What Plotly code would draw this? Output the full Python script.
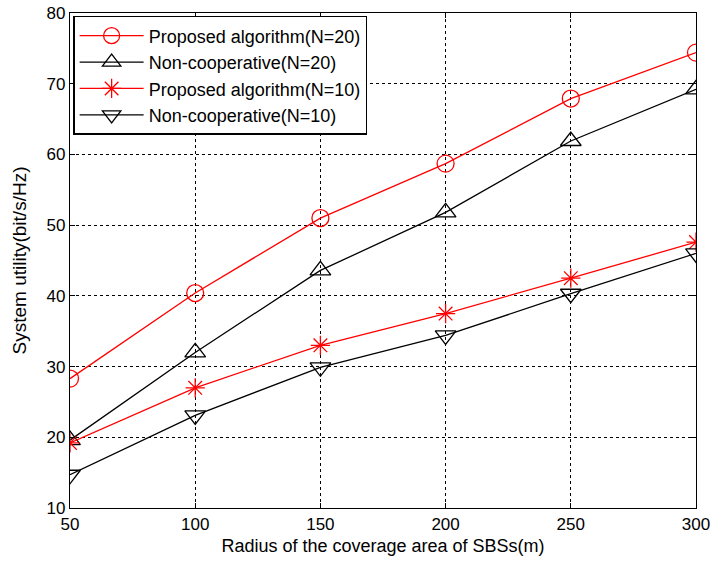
import plotly.graph_objects as go

radius = [50, 100, 150, 200, 250, 300]
proposed_n20 = [28.3, 40.4, 51.0, 58.7, 67.9, 74.4]
noncoop_n20 = [19.6, 32.0, 43.6, 51.8, 61.9, 69.2]
proposed_n10 = [19.2, 27.0, 33.0, 37.5, 42.5, 47.6]
noncoop_n10 = [14.7, 23.1, 29.9, 34.4, 40.3, 46.0]

series = [
    ("Proposed algorithm(N=20)", proposed_n20, "red", "circle-open", 17),
    ("Non-cooperative(N=20)", noncoop_n20, "black", "triangle-up-open", 18),
    ("Proposed algorithm(N=10)", proposed_n10, "red", "asterisk-open", 16),
    ("Non-cooperative(N=10)", noncoop_n10, "black", "triangle-down-open", 18),
]

fig = go.Figure()
for name, ys, color, sym, size in series:
    fig.add_trace(go.Scatter(
        x=radius, y=ys, name=name, mode="lines+markers",
        line=dict(color=color, width=1.3),
        marker=dict(symbol=sym, size=size, color=color, line=dict(color=color, width=1.3)),
    ))

font = "Arial, Liberation Sans, sans-serif"
axis_common = dict(
    showline=True, linecolor="black", linewidth=1.2, mirror="allticks",
    ticks="inside", ticklen=5, tickcolor="black",
    showgrid=True, gridcolor="black", griddash="dot", gridwidth=1,
    zeroline=False, tickfont=dict(family=font, size=17, color="black"),
    automargin=False, ticklabeloverflow="allow",
)
fig.update_xaxes(range=[50, 300], tickvals=[50, 100, 150, 200, 250, 300],
                 title=dict(text="Radius of the coverage area of SBSs(m)",
                            font=dict(family=font, size=18, color="black"), standoff=6),
                 **axis_common)
fig.update_yaxes(range=[10, 80], tickvals=[10, 20, 30, 40, 50, 60, 70, 80],
                 title=dict(text="System utility(bit/s/Hz)",
                            font=dict(family=font, size=19, color="black"), standoff=14),
                 **axis_common)
fig.update_layout(
    width=713, height=563,
    margin=dict(l=70, r=17, t=13, b=55),
    paper_bgcolor="white", plot_bgcolor="white",
    font=dict(family=font, color="black"),
    legend=dict(x=0.005, y=0.994, xanchor="left", yanchor="top",
                bgcolor="white", bordercolor="black", borderwidth=1.5,
                font=dict(family=font, size=18, color="black"),
                tracegroupgap=0, itemwidth=64),
    showlegend=True,
)
fig.write_html(
    "out.html",
    config={"displayModeBar": False},
    post_script="document.body.style.margin='0';document.body.style.overflow='hidden';",
)
